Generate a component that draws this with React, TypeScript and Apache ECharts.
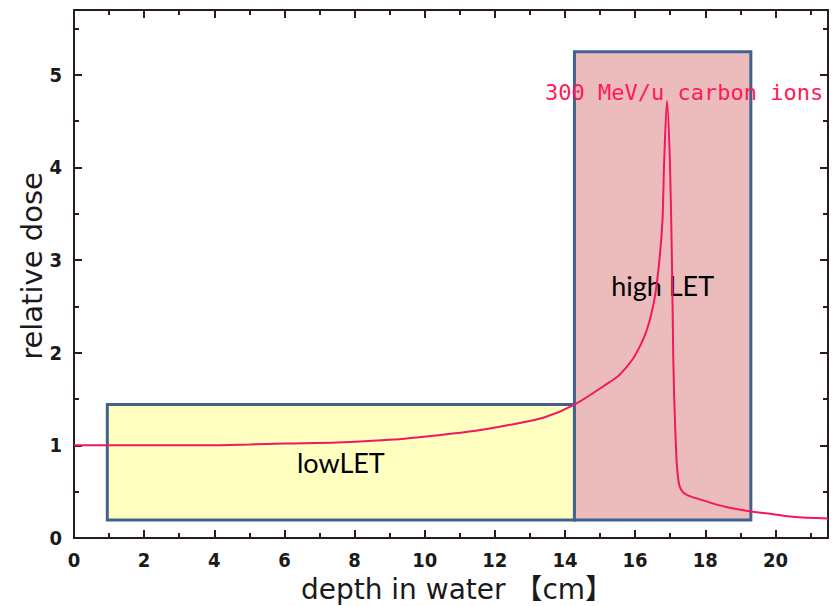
import React, { useEffect, useRef } from "react";
import * as echarts from "echarts";

// Depth-dose curve of 300 MeV/u carbon ions
const depthCm = [0, 1, 2, 3.5, 5, 6, 7.5, 9, 10.4, 11.5, 12.4, 13.4, 14.27, 15.26, 15.55, 15.93, 16.15, 16.31, 16.45, 16.57, 16.69, 16.78, 16.83, 16.91, 16.99, 17.05, 17.09, 17.13, 17.18, 17.21, 17.26, 17.35, 17.5, 17.82, 18.2, 18.59, 19.25, 19.9, 20.49, 21.5];
const relativeDose = [1.0, 1.0, 1.0, 1.0, 1.01, 1.02, 1.03, 1.06, 1.11, 1.16, 1.22, 1.3, 1.44, 1.68, 1.76, 1.93, 2.08, 2.22, 2.4, 2.62, 2.99, 3.43, 4.08, 4.72, 4.08, 2.99, 1.91, 1.33, 0.85, 0.7, 0.57, 0.5, 0.46, 0.42, 0.375, 0.335, 0.29, 0.26, 0.23, 0.21];

// Highlighted regions
const regionNames = ["lowLET", "high LET"];
const regionX0 = [0.95, 14.27];
const regionX1 = [14.27, 19.3];
const regionY0 = [0.195, 0.195];
const regionY1 = [1.44, 5.25];
const regionColors = ["#ffffc0", "#ecbcbd"];

const seriesLabel = "300 MeV/u carbon ions";
const xTitle = "depth in water 【cm】";
const yTitle = "relative dose";

const axisColor = "#2a1b1d";
const tickFont = "'DejaVu Sans Condensed', 'Liberation Sans Narrow', 'DejaVu Sans', sans-serif";
const titleFont = "'DejaVu Sans', 'Noto Sans CJK JP', sans-serif";

export default function App() {
  const ref = useRef<HTMLDivElement>(null);
  useEffect(() => {
    if (!ref.current) return;
    const chart = echarts.init(ref.current, undefined, { renderer: "svg" });
    const axisLine = { show: true, onZero: false, lineStyle: { color: axisColor, width: 2 } };
    const axisTick = { show: true, inside: false, length: -8, lineStyle: { color: axisColor, width: 2 } };
    const minorTick = { show: true, splitNumber: 2, length: -5, lineStyle: { color: axisColor, width: 2 } };
    const tickLabel = {
      fontSize: 20,
      fontWeight: "bold" as const,
      color: "#1a1a1a",
      fontFamily: tickFont,
      showMaxLabel: false,
    };
    const xBase = {
      type: "value" as const,
      min: 0,
      max: 21.5,
      interval: 2,
      axisLine,
      axisTick,
      minorTick,
      splitLine: { show: false },
      minorSplitLine: { show: false },
    };
    const yBase = {
      type: "value" as const,
      min: 0,
      max: 5.7,
      interval: 1,
      axisLine,
      axisTick,
      minorTick,
      splitLine: { show: false },
      minorSplitLine: { show: false },
    };
    chart.setOption({
      animation: false,
      backgroundColor: "#ffffff",
      grid: { left: 74, right: 4, top: 10, bottom: 68, containLabel: false },
      xAxis: [
        { ...xBase, position: "bottom", axisLabel: { ...tickLabel, margin: 12 } },
        { ...xBase, position: "top", axisLabel: { show: false } },
      ],
      yAxis: [
        { ...yBase, position: "left", axisLabel: { ...tickLabel, margin: 12 } },
        { ...yBase, position: "right", axisLabel: { show: false } },
      ],
      series: [
        {
          type: "line",
          z: 1,
          data: [],
          silent: true,
          markArea: {
            silent: true,
            data: regionNames.map((name, i) => [
              {
                name,
                coord: [regionX0[i], regionY0[i]],
                itemStyle: { color: regionColors[i], borderColor: "#41628e", borderWidth: 3 },
              },
              { coord: [regionX1[i], regionY1[i]] },
            ]),
            label: {
              show: true,
              position: "inside",
              color: "#000000",
              fontSize: 27,
              fontFamily: "Lato, 'Open Sans', sans-serif",
            },
          },
        },
        {
          type: "line",
          z: 5,
          name: seriesLabel,
          data: depthCm.map((d, i) => [d, relativeDose[i]]),
          showSymbol: false,
          smooth: 0.3,
          lineStyle: { color: "#f2185e", width: 2 },
        },
      ],
      graphic: [
        {
          type: "text",
          x: 545,
          y: 92,
          style: {
            text: seriesLabel,
            fill: "#ff1a55",
            fontSize: 22,
            fontFamily: "'DejaVu Sans Mono', 'Liberation Mono', monospace",
            verticalAlign: "middle",
            align: "left",
          },
          z: 10,
        },
        {
          type: "text",
          x: 457,
          y: 589,
          style: {
            text: xTitle,
            fill: "#1a1a1a",
            fontSize: 28,
            fontFamily: titleFont,
            align: "center",
            verticalAlign: "middle",
          },
        },
        {
          type: "text",
          x: 32,
          y: 266,
          rotation: Math.PI / 2,
          style: {
            text: yTitle,
            fill: "#1a1a1a",
            fontSize: 29,
            fontFamily: titleFont,
            align: "center",
            verticalAlign: "middle",
          },
        },
      ],
    });
    return () => chart.dispose();
  }, []);
  return (
    <div
      ref={ref}
      style={{ position: "fixed", left: 0, top: 0, width: 832, height: 606, background: "#fff" }}
    />
  );
}
